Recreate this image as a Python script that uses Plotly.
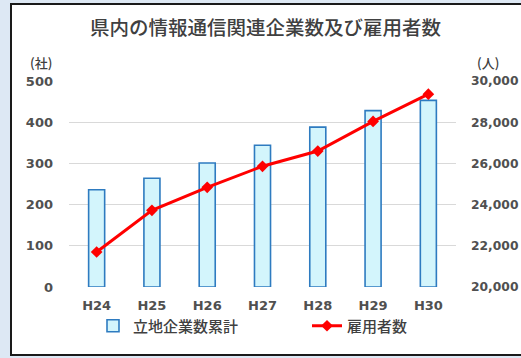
import plotly.graph_objects as go

categories = ["H24", "H25", "H26", "H27", "H28", "H29", "H30"]
companies = [236, 264, 301, 344, 388, 428, 453]          # 立地企業数累計 (社)
employees = [21700, 23720, 24840, 25860, 26600, 28040, 29360]  # 雇用者数 (人)
left_ticks = [0, 100, 200, 300, 400, 500]
right_ticks = [20000, 22000, 24000, 26000, 28000, 30000]

W, H = 521, 358
L, R, T, B = 69, 65, 81, 71
pw, ph = W - L - R, H - T - B

def px(x):
    return (x - L) / pw

def py(y):
    return (H - B - y) / ph

tick_font = dict(family="DejaVu Sans", size=13, color="#505050", weight="bold")
right_tick_font = dict(family="DejaVu Sans", size=12.3, color="#505050", weight="bold")
legend_font = dict(family="Noto Sans CJK JP", size=15, color="#404040", weight=500)

fig = go.Figure()
fig.add_trace(go.Bar(
    x=categories, y=companies, name="立地企業数累計",
    marker=dict(color="#d3f5fc", line=dict(color="#2e7bc0", width=1.6)),
    width=0.29, yaxis="y", legend="legend",
))
fig.add_trace(go.Scatter(
    x=categories, y=employees, name="雇用者数", mode="lines+markers",
    line=dict(color="#ff0000", width=3),
    marker=dict(symbol="diamond", size=9, color="#ff0000"),
    yaxis="y2", legend="legend2",
))

fig.update_layout(
    width=W, height=H,
    margin=dict(l=L, r=R, t=T, b=B, autoexpand=False),
    paper_bgcolor="#dde8f4",
    plot_bgcolor="white",
    showlegend=True,
    legend=dict(
        orientation="h", x=px(93), y=py(326), xanchor="left", yanchor="middle",
        font=legend_font, bgcolor="rgba(0,0,0,0)", itemwidth=30,
    ),
    legend2=dict(
        orientation="h", x=px(307), y=py(326), xanchor="left", yanchor="middle",
        font=legend_font, bgcolor="rgba(0,0,0,0)", itemwidth=30,
    ),
    xaxis=dict(
        showgrid=False, showline=False, ticks="",
        tickfont=tick_font, ticklabelstandoff=9,
    ),
    yaxis=dict(
        range=[0, 500], tickvals=left_ticks, showgrid=True,
        gridcolor="#d9d9d9", gridwidth=1, zeroline=False, showline=False,
        tickfont=tick_font, ticklabelstandoff=15,
    ),
    yaxis2=dict(
        range=[20000, 30000], tickvals=right_ticks, tickformat=",d",
        overlaying="y", side="right", showgrid=False, zeroline=False,
        showline=False, tickfont=right_tick_font, ticklabelstandoff=14,
    ),
    shapes=[dict(
        type="rect", xref="paper", yref="paper",
        x0=px(11), x1=px(540), y0=py(355), y1=py(4),
        fillcolor="white", line=dict(color="#1a1a1a", width=2), layer="below",
    )],
    annotations=[
        dict(text="県内の情報通信関連企業数及び雇用者数", xref="paper", yref="paper",
             x=px(265), y=py(27), xanchor="center", yanchor="middle", showarrow=False,
             font=dict(family="Noto Sans CJK JP", size=19.5, color="#404040", weight=500)),
        dict(text="(社)", xref="paper", yref="paper",
             x=px(41), y=py(62), xanchor="center", yanchor="middle", showarrow=False,
             font=dict(family="Noto Sans CJK JP", size=13, color="#404040", weight=500)),
        dict(text="(人)", xref="paper", yref="paper",
             x=px(488), y=py(62), xanchor="center", yanchor="middle", showarrow=False,
             font=dict(family="Noto Sans CJK JP", size=13, color="#404040", weight=500)),
    ],
)

fig.write_html("out.html")
